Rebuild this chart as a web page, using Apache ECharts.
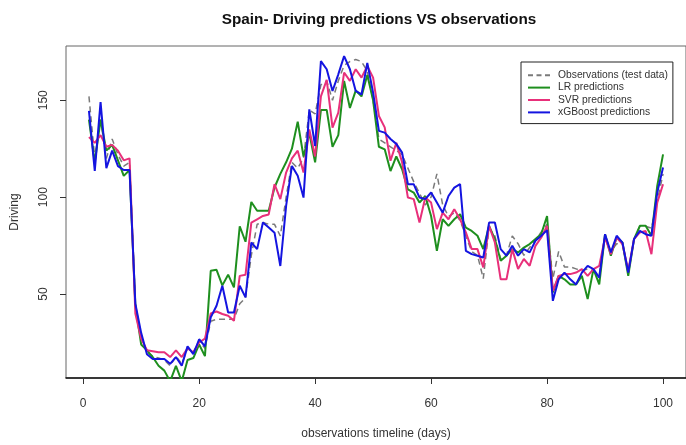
<!DOCTYPE html>
<html>
<head>
<meta charset="utf-8">
<script src="https://cdn.jsdelivr.net/npm/echarts@6/dist/echarts.min.js"></script>
<style>
html,body{margin:0;padding:0;background:#fff;}
#chart{width:686px;height:445px;}
</style>
</head>
<body>
<div id="chart"></div>
<script>
// Values (day 1..100)
var observations = [152,120,140,120,130,122,116,118,45,28,
  20,18,17,16,13,18,14,22,20,26,
  22,36,37,37,37,37,45,48,70,86,
  87,86,86,80,100,118,115,120,145,143,
  158,160,150,160,168,170,171,170,165,150,
  130,128,126,124,122,115,108,102,96,100,
  112,96,90,92,88,80,72,70,58,84,
  80,68,70,80,76,70,74,78,82,86,
  58,72,64,64,63,62,63,62,60,80,
  72,76,76,62,78,85,85,84,98,112];
var lrPred = [140,118,140,124,127,119,111,114,44,24,
  21,17.5,13,10.5,5,13,5,16,17,24,
  18,62,62.5,54.5,60,53.5,85,77,97.5,93,
  93,93,105,112,118,125,139,121,133,118,
  145,145,126,132,160,146,155,152,163,150,
  126,124.7,113.5,121,114.4,104,102.4,97.2,100.6,90.3,
  72.3,88.6,85.2,88.6,91.2,84.3,82.6,80.1,73.2,85.2,
  78.4,67.2,69.8,73.2,71.5,74,75.8,78.4,81,90.3,
  50.8,59.4,57.6,55,55,59.4,47.4,62.9,55,80.9,
  69.8,79.2,76.6,59.4,78.4,85.2,85.2,80.1,105.8,122.1];
var svrPred = [131,128,132,126,127,124,119,120,40,27,
  21,20.5,20,20,17.5,21,17.5,22,20,25,
  27,40,41,39.7,38.8,36.2,59.4,60,86.9,88.6,
  90.3,91.1,106.7,99,112.7,120,124,112.7,135,121,
  152,160.5,135.9,143.6,164.3,160,166,161.7,167.7,161.7,
  141.9,136,118.8,128,118,99.8,99,86.9,99.8,97.2,
  83.5,92,88.6,93.8,88.6,81.8,73.2,73.2,63.8,85.2,
  76.6,57.6,57.6,73.2,63,68.1,64.6,74.9,79.2,85.2,
  51.7,59.4,60.3,60.3,61.1,62.9,59.4,62.9,64.6,79.2,
  70.6,79.2,75.8,62.1,78.4,81.8,82.6,70.6,97.2,106.7];
var xgbPred = [144.5,113.6,149,115,124,116,114,114,45,30,
  19,16.5,16.5,16.5,14,17.5,13,23,19,26.7,
  23,38,44,54.3,40.5,40.5,54.3,48.3,76.6,73.2,
  86.9,84.3,81.7,64.5,95.5,116.1,111,99.8,145.3,126.4,
  170.2,166,154.8,163.4,172.8,166,154.8,153,169.3,153.9,
  134.2,133.3,130,127.5,123,106.7,106.7,99.8,99,102.4,
  97.2,92,100.6,104.9,106.7,72.3,70.6,69.8,68.9,86.9,
  86.9,73.2,69.8,74.9,69.8,73.2,71.5,77.5,80.1,83,
  46.5,57.6,61.1,57.6,55,61.1,64.6,62.9,58.5,80.9,
  71.5,80.1,76.6,61.1,78.4,82.6,80.9,80.1,102.4,115.3];
var xTicks = [0,20,40,60,80,100];
var yTicks = [50,100,150];
var seriesNames = ['Observations (test data)','LR predictions','SVR predictions','xGBoost predictions'];

function toPairs(arr){ return arr.map(function(v,i){ return [i+1, v]; }); }

var solidIcon = 'path://M0,0H22V2H0Z';
var dashIcon = 'path://M0,0H5V2H0Z M8.5,0H13.5V2H8.5Z M17,0H22V2H17Z';

var chart = echarts.init(document.getElementById('chart'), null, {renderer:'canvas'});
var font = 'Liberation Sans, Arial, sans-serif';
chart.setOption({
  animation:false,
  backgroundColor:'#fff',
  title:{
    text:'Spain- Driving predictions VS observations',
    left:374, top:7, textAlign:'center',
    textStyle:{fontFamily:font, fontWeight:'bold', fontSize:15.3, color:'#111'}
  },
  legend:{
    orient:'vertical',
    left:521, top:62,
    padding:[7,5,5,7],
    itemGap:0,
    itemWidth:22, itemHeight:2,
    borderColor:'#222', borderWidth:1,
    backgroundColor:'#fff',
    textStyle:{fontFamily:font, fontSize:10.3, color:'#333', lineHeight:12.4, padding:[0,0,0,3]},
    data:[
      {name:seriesNames[0], icon:dashIcon},
      {name:seriesNames[1], icon:solidIcon},
      {name:seriesNames[2], icon:solidIcon},
      {name:seriesNames[3], icon:solidIcon}
    ]
  },
  grid:{left:66, right:-3, top:46, bottom:67, show:true, borderColor:'#666', borderWidth:1},
  xAxis:{
    type:'value', min:-2.96, max:103.96,
    name:'observations timeline (days)', nameLocation:'middle', nameGap:50,
    nameTextStyle:{fontFamily:font, fontSize:12, color:'#333'},
    axisLine:{show:true, onZero:false, lineStyle:{color:'#111', width:1.5}},
    axisTick:{show:true, length:6, customValues:xTicks, lineStyle:{color:'#333'}},
    axisLabel:{customValues:xTicks, margin:20, fontFamily:font, fontSize:12, color:'#333'},
    splitLine:{show:false}
  },
  yAxis:{
    type:'value', min:6.7, max:178,
    name:'Driving', nameLocation:'middle', nameGap:45, nameRotate:90,
    nameTextStyle:{fontFamily:font, fontSize:12, color:'#333'},
    axisLine:{show:false, onZero:false},
    axisTick:{show:true, length:6, customValues:yTicks, lineStyle:{color:'#333'}},
    axisLabel:{customValues:yTicks, rotate:90, margin:16, fontFamily:font, fontSize:12, color:'#333'},
    splitLine:{show:false}
  },
  series:[
    {name:seriesNames[0], type:'line', data:toPairs(observations), symbol:'none', z:2,
     lineStyle:{color:'#7a7a7a', width:1.5, type:[6,4]}, itemStyle:{color:'#7a7a7a'}},
    {name:seriesNames[1], type:'line', data:toPairs(lrPred), symbol:'none', z:3,
     lineStyle:{color:'#1e8f1e', width:2}, itemStyle:{color:'#1e8f1e'}},
    {name:seriesNames[2], type:'line', data:toPairs(svrPred), symbol:'none', z:4,
     lineStyle:{color:'#e8307a', width:2}, itemStyle:{color:'#e8307a'}},
    {name:seriesNames[3], type:'line', data:toPairs(xgbPred), symbol:'none', z:5,
     lineStyle:{color:'#1414e0', width:2}, itemStyle:{color:'#1414e0'}}
  ]
});
</script>
</body>
</html>
